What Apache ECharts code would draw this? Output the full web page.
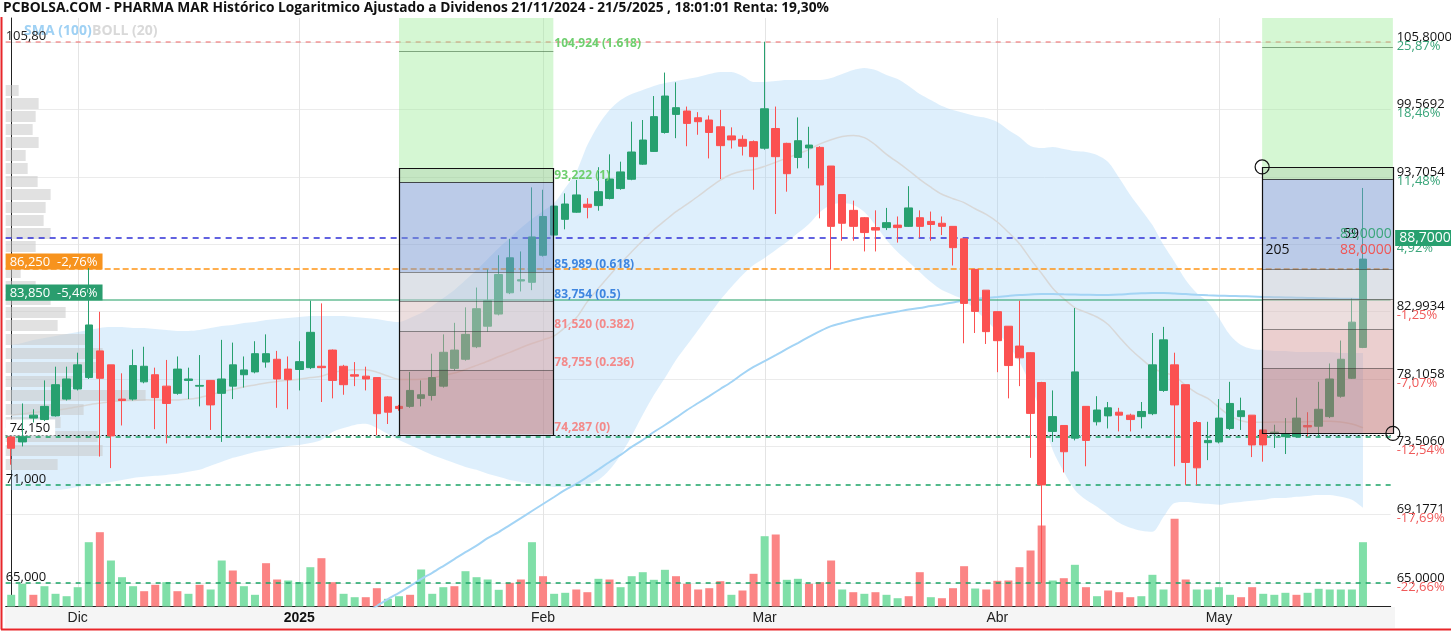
<!DOCTYPE html>
<html>
<head>
<meta charset="utf-8">
<title>PHARMA MAR - PCBOLSA</title>
<script src="https://cdn.jsdelivr.net/npm/echarts@6/dist/echarts.min.js"></script>
<style>
  html, body { margin: 0; padding: 0; background: #fff; }
  #chart { width: 1451px; height: 632px; }
</style>
</head>
<body>
<div id="chart"></div>
<script>
// sesiones 22/11/2024 - 21/5/2025
const dates = [
  '22/11','25/11','26/11','27/11','28/11','29/11',
  '2/12','3/12','4/12','5/12','6/12','9/12','10/12','11/12','12/12','13/12','16/12','17/12','18/12','19/12','20/12','23/12','24/12','27/12','30/12','31/12',
  '2/1','3/1','6/1','7/1','8/1','9/1','10/1','13/1','14/1','15/1','16/1','17/1','20/1','21/1','22/1','23/1','24/1','27/1','28/1','29/1','30/1','31/1',
  '3/2','4/2','5/2','6/2','7/2','10/2','11/2','12/2','13/2','14/2','17/2','18/2','19/2','20/2','21/2','24/2','25/2','26/2','27/2','28/2',
  '3/3','4/3','5/3','6/3','7/3','10/3','11/3','12/3','13/3','14/3','17/3','18/3','19/3','20/3','21/3','24/3','25/3','26/3','27/3','28/3','31/3',
  '1/4','2/4','3/4','4/4','7/4','8/4','9/4','10/4','11/4','14/4','15/4','16/4','17/4','22/4','23/4','24/4','25/4','28/4','29/4','30/4',
  '2/5','5/5','6/5','7/5','8/5','9/5','12/5','13/5','14/5','15/5','16/5','19/5','20/5','21/5'
];
const monthStarts = ['2/12', '2/1', '3/2', '3/3', '1/4', '2/5'];
const monthNames = ['Dic', '2025', 'Feb', 'Mar', 'Abr', 'May'];

// [apertura, cierre, minimo, maximo]
const ohlc = [
  [74.13,73.38,72.3,74.2],[73.8,74.15,73.5,76.4],[75.4,75.6,75.1,76.0],[75.3,76.2,75.2,78.0],[75.55,77.7,75.5,78.97],
  [76.7,78.1,76.6,78.97],[77.4,79.1,77.3,79.97],[78.2,81.99,78.1,86.3],[80.1,78.15,72.83,82.97],[79.1,74.2,72.08,79.1],
  [76.7,76.6,74.9,78.5],[76.7,79.05,76.6,80.2],[77.9,79.0,77.8,80.4],[78.4,76.8,74.65,78.9],[77.6,76.4,73.7,79.45],
  [77.1,78.8,77.0,79.7],[78.0,78.1,76.7,78.9],[77.6,77.65,76.2,79.8],[78.0,76.3,74.6,78.0],[77.1,78.1,73.8,80.9],
  [77.6,79.1,76.7,80.7],[78.4,78.74,77.5,79.7],[78.6,79.9,78.5,80.8],[79.3,79.9,78.9,81.3],[79.5,78.1,76.1,80.1],
  [78.8,78.05,76.0,79.7],[78.77,79.33,77.3,80.8],[78.9,81.45,78.8,83.8],[79.0,78.9,76.5,83.6],[80.16,78.0,76.75,80.2],
  [79.0,77.7,77.0,79.1],[78.4,78.3,77.6,79.3],[78.3,78.1,77.3,78.97],[78.2,75.7,74.25,78.2],[76.85,75.8,75.0,76.9],
  [76.2,76.05,75.9,76.3],[76.2,77.3,76.1,78.6],[76.75,77.0,76.2,78.0],[76.95,78.2,76.6,79.9],[77.6,80.0,77.5,81.3],
  [78.85,80.16,78.7,82.15],[79.5,81.3,79.4,83.3],[80.4,83.2,80.3,84.8],[81.9,83.8,81.5,86.2],[82.8,85.8,82.7,87.3],
  [84.4,87.1,84.3,88.6],[85.3,85.4,84.5,87.6],[85.2,88.75,84.6,92.8],[87.3,90.4,87.2,92.6],[88.9,91.25,88.8,92.4],
  [90.17,91.42,89.36,92.3],[90.75,92.17,90.7,93.42],[91.4,91.15,90.25,91.9],[91.29,92.44,90.87,94.5],[91.88,93.5,91.8,95.6],
  [92.7,94.1,92.6,94.97],[93.48,95.8,93.4,98.45],[94.76,96.84,94.7,98.6],[95.85,98.9,95.8,100.75],[97.5,100.75,97.4,102.9],
  [99.1,99.7,97.0,102.0],[99.4,98.3,96.3,99.8],[98.8,98.45,97.3,99.3],[98.6,97.5,95.25,99.0],[98.0,96.35,93.5,99.5],
  [97.2,96.85,96.1,97.95],[96.9,96.3,95.5,97.25],[96.7,95.4,92.6,96.8],[96.13,99.6,96.0,105.8],[97.85,95.4,90.6,99.8],
  [96.55,93.95,92.44,96.6],[95.33,96.78,94.4,98.83],[96.15,96.4,94.4,98.0],[96.2,93.0,90.25,96.3],[94.6,89.6,86.2,94.6],
  [92.2,89.85,88.45,92.2],[90.9,89.6,88.45,91.7],[90.3,89.1,87.6,90.35],[89.5,89.3,87.6,90.9],[89.5,89.9,89.3,91.1],
  [89.7,89.5,88.3,90.4],[89.6,91.1,89.55,92.9],[90.3,89.6,88.7,90.9],[90.0,89.75,88.45,90.8],[89.85,89.6,88.9,90.4],
  [89.6,87.9,86.5,89.6],[88.6,83.6,80.65,88.6],[86.2,83.0,81.4,86.25],[84.6,81.5,80.6,84.6],[82.98,80.84,78.58,83.0],
  [81.9,79.05,76.75,81.9],[80.45,79.6,77.6,83.8],[79.97,75.72,72.75,80.0],[77.85,71.0,65.0,77.9],[74.5,75.5,73.8,77.3],
  [74.9,73.15,71.8,74.9],[74.05,78.6,73.9,83.25],[76.2,73.9,72.2,76.2],[75.15,75.95,74.9,76.9],[75.55,76.1,74.7,76.5],
  [75.8,75.6,74.5,76.1],[75.6,75.3,74.5,75.7],[75.5,75.85,74.7,76.5],[75.7,79.1,75.6,81.4],[77.3,80.9,77.2,81.85],
  [79.1,76.3,72.2,79.97],[77.7,72.45,71.0,77.7],[75.1,72.1,71.0,75.2],[73.75,73.9,72.6,75.15],[73.8,75.4,73.7,76.7],
  [74.7,76.4,74.6,77.9],[75.5,75.9,74.6,76.8],[75.6,73.6,72.8,75.6],[74.6,73.6,72.5,74.6],[74.35,74.45,73.4,74.95],
  [74.15,74.3,73.0,75.4],[74.15,75.4,74.1,76.8],[74.9,74.8,74.15,75.8],[74.85,76.0,74.1,77.9],[75.5,78.1,75.4,79.2],
  [76.9,79.5,76.8,80.85],[78.15,82.2,78.1,83.97],[80.35,87.0,80.3,92.75]
];

const volume = [
  117,227,117,203,127,103,193,643,743,460, 293,203,153,217,243,153,127,217,170,460,
  360,203,117,433,270,260,243,393,483,243, 127,93,93,183,77,103,117,370,127,193,
  203,353,293,270,167,237,270,643,303,127, 137,170,143,277,270,193,303,343,267,367,
  303,227,170,183,253,117,160,327,703,720, 267,277,227,243,460,170,143,127,143,117,
  83,103,343,93,83,183,403,180,170,257, 260,393,560,810,260,283,417,193,103,160,
  143,93,103,317,170,877,270,170,170,193, 117,93,193,127,117,137,117,137,177,170,
  170,170,643
];
const volDir = [
  1,1,-1,1,1,1,1,1,-1,1, 1,1,-1,-1,1,-1,1,-1,1,1, -1,1,1,-1,-1,1,1,1,-1,-1,
  1,1,-1,-1,1,1,-1,1,1,1, -1,1,1,1,1,-1,-1,1,-1,1, 1,-1,-1,1,-1,1,1,1,1,1,
  -1,-1,-1,-1,-1,1,-1,-1,1,-1, 1,1,-1,-1,-1,1,-1,1,-1,1, 1,-1,-1,1,-1,-1,-1,1,-1,-1,
  -1,-1,-1,-1,1,-1,1,-1,1,-1, -1,-1,1,1,1,-1,-1,1,1,1, 1,-1,-1,1,1,1,-1,1,1,1,
  1,1,1
];

const bollUp = [
  80.52,80.67,80.89,81.04,81.18,81.33,81.47,81.62,81.77,81.84,
  81.84,81.77,81.77,81.69,81.62,81.55,81.55,81.62,81.77,81.92,
  81.99,82.14,82.21,82.36,82.43,82.51,82.58,82.66,82.66,82.66,
  82.66,82.58,82.51,82.43,82.29,82.21,82.51,82.88,83.40,84.00,
  84.61,85.37,86.15,87.01,87.87,88.66,89.46,90.19,90.85,91.50,
  92.75,94.09,96.40,98.16,99.49,100.39,100.94,101.30,101.67,101.94,
  102.13,102.31,102.50,102.77,102.96,102.96,102.59,102.04,102.04,102.13,
  102.22,102.22,102.22,102.22,102.40,102.77,103.14,103.33,103.14,102.68,
  102.31,101.67,100.94,100.39,99.85,99.49,99.22,98.95,98.78,98.42,
  97.72,97.10,96.32,96.14,96.23,96.06,95.88,95.80,95.54,94.94,
  93.59,92.16,90.93,89.70,88.10,86.77,85.37,84.38,83.70,82.51,
  81.25,80.52,80.23,80.16,80.09,80.09,80.02,80.02,80.02,80.02,
  79.95,79.95,79.95
];
const bollLo = [
  70.68,70.68,70.68,70.68,70.68,70.74,70.87,71.00,71.06,71.19,
  71.32,71.45,71.52,71.58,71.64,71.71,71.84,71.97,72.23,72.49,
  72.75,72.94,73.14,73.27,73.40,73.53,73.60,73.73,73.93,74.46,
  74.73,74.94,75.01,74.73,74.33,73.93,73.60,73.27,72.94,72.68,
  72.42,72.16,71.97,71.71,71.52,71.32,71.19,71.06,70.94,70.87,
  70.87,70.94,71.06,71.32,71.97,72.94,74.20,75.62,76.98,78.17,
  79.45,80.52,81.62,82.73,83.85,84.84,85.76,86.54,87.09,87.71,
  88.34,89.06,89.79,90.77,91.34,91.50,91.34,90.77,89.70,88.50,
  87.55,86.77,86.00,85.22,84.61,84.23,83.85,83.10,82.36,81.47,
  80.52,79.31,77.68,75.62,73.27,71.84,70.68,70.05,69.61,69.11,
  68.62,68.31,68.13,68.07,68.99,69.86,69.92,69.86,69.80,69.74,
  69.86,69.92,69.99,70.05,70.17,70.17,70.24,70.30,70.36,70.36,
  70.24,70.05,69.55
];
const bollMid = [
  75.60,75.68,75.79,75.86,75.93,76.04,76.17,76.31,76.42,76.52,
  76.58,76.61,76.65,76.64,76.63,76.63,76.70,76.80,77.00,77.21,
  77.37,77.54,77.68,77.82,77.92,78.02,78.09,78.20,78.30,78.56,
  78.70,78.76,78.76,78.58,78.31,78.07,78.06,78.08,78.17,78.34,
  78.52,78.77,79.06,79.36,79.70,79.99,80.33,80.63,80.90,81.19,
  81.81,82.52,83.73,84.74,85.73,86.67,87.57,88.46,89.33,90.06,
  90.79,91.42,92.06,92.75,93.41,93.90,94.18,94.29,94.57,94.92,
  95.28,95.64,96.01,96.50,96.87,97.14,97.24,97.05,96.42,95.59,
  94.93,94.22,93.47,92.81,92.23,91.86,91.54,91.03,90.57,89.95,
  89.12,88.21,87.00,85.88,84.75,83.95,83.28,82.93,82.58,82.03,
  81.11,80.24,79.53,78.89,78.55,78.32,77.65,77.12,76.75,76.13,
  75.56,75.22,75.11,75.11,75.13,75.13,75.13,75.16,75.19,75.19,
  75.13,75.00,74.75
];
const sma100 = Array(32).fill(null).concat([
  63.28,63.67,64.07,64.43,64.82,65.23,65.60,66.00,
  66.41,66.83,67.22,67.68,68.05,68.48,68.91,69.35,69.79,70.23,
  70.68,71.06,71.51,71.99,72.48,72.94,73.47,73.93,74.46,74.93,
  75.43,75.95,76.43,76.91,77.40,77.89,78.45,78.95,79.37,79.80,
  80.24,80.67,81.11,81.54,81.91,82.13,82.36,82.55,82.69,82.84,
  82.99,83.14,83.25,83.40,83.52,83.67,83.82,83.93,84.01,84.08,
  84.16,84.23,84.27,84.31,84.30,84.28,84.27,84.25,84.23,84.24,
  84.27,84.32,84.36,84.38,84.38,84.35,84.30,84.25,84.21,84.18,
  84.16,84.14,84.12,84.09,84.07,84.05,84.03,84.01,83.99,83.97,
  83.95,83.94,83.93
]);

// volumen por nivel de precio (perfil de la izquierda)
const profilePrice = [101.25,100.04,98.90,97.77,96.63,95.50,94.39,93.29,92.20,91.14,90.07,89.02,87.98,86.97,85.92,
  84.88,83.89,82.92,81.95,80.93,79.91,78.92,77.94,76.97,76.01,75.07,74.14,73.23,72.33];
const profileVol = [13,33,30,27,33,20,22,32,45,40,38,45,30,35,15,30,45,60,52,83,97,93,77,140,78,55,92,97,52];

// eje derecho
const rightTicks = [65, 69.1771, 73.506, 78.1058, 82.9934, 88.1862, 93.7054, 99.5692, 105.8];
const rightText = ['65,0000','69,1771','73,5060','78,1058','82,9934','88,1862','93,7054','99,5692','105,8000'];
const rightPct = ['-22,66%','-17,69%','-12,54%','-7,07%','-1,25%','4,92%','11,48%','18,46%','25,87%'];

// niveles horizontales
const levelValue = [105.8, 88.7, 86.25, 83.85, 74.287, 74.15, 71, 65];
const levelText = ['105,80', '', '86,250  -2,76%', '83,850  -5,46%', '', '74,150', '71,000', '65,000'];
const lastPrice = 88.7;
const lastText = '88,7000';

// fibonacci
const fibLeft = [74.287, 78.755, 81.520, 83.754, 85.989, 93.222, 94.44, 104.924];
const fibLeftText = ['74,287 (0)', '78,755 (0.236)', '81,520 (0.382)', '83,754 (0.5)', '85,989 (0.618)', '93,222 (1)', '', '104,924 (1.618)'];
const fibRight = [74.37, 78.88, 81.68, 83.93, 86.19, 93.49, 94.52, 105.32];

// notas del recuadro derecho
const noteText = ['205', '59', '89,0000', '88,0000'];
const noteX = [113.2, 120.2, 124.6, 124.6];
const notePrice = [87.75, 88.95, 88.95, 87.75];

const GREEN = '#27a06f', RED = '#fb5151';
const FONT = '"Open Sans", "DejaVu Sans", sans-serif';
const levelStyle = [
  { stroke: '#f06464', dash: [5, 5], width: 1.2 },
  { stroke: '#2f2fd6', dash: [6, 5], width: 1.5, to: 119.9 },
  { stroke: '#ff9414', dash: [6, 3], width: 1.5, bg: '#f7931e', fill: '#fff' },
  { stroke: '#1f9d62', dash: null, width: 1.2, bg: '#2a9d6e', fill: '#fff' },
  { stroke: '#111', dash: [2, 2], width: 1 },
  { stroke: '#1aa466', dash: [5, 5], width: 1.5, bg: '#fff', fill: '#111', lift: 2 },
  { stroke: '#1aa466', dash: [5, 5], width: 1.5, fill: '#111' },
  { stroke: '#1aa466', dash: [5, 5], width: 1.5, fill: '#111' }
];
const fibFill = ['rgba(190,110,110,0.5)', 'rgba(215,160,160,0.5)', 'rgba(218,190,190,0.5)',
  'rgba(190,198,210,0.5)', 'rgba(120,152,210,0.5)', 'rgba(140,205,135,0.5)', 'rgba(150,235,145,0.4)'];
const fibTextColor = ['#f38a8a', '#f38a8a', '#f38a8a', '#3f86e0', '#3f86e0', '#6fcf6f', '', '#6fcf6f'];
const fibBoxes = [
  { span: [35.0, 48.93], levels: fibLeft, text: fibLeftText, circles: false },
  { span: [112.9, 124.7], levels: fibRight, text: null, circles: true }
];
const noteStyle = [
  { color: '#111', align: 'left' }, { color: '#111', align: 'left' },
  { color: '#3aa57a', align: 'right' }, { color: '#f05555', align: 'right' }
];

const slots = dates.concat([' ', '  ']);
const monthIdx = monthStarts.map(d => dates.indexOf(d));

const chart = echarts.init(document.getElementById('chart'));

chart.setOption({
  animation: false,
  backgroundColor: '#fff',
  grid: { left: 5.66, right: 60.34, top: 18, bottom: 25.5 },
  graphic: [
    { type: 'rect', z: -10, shape: { x: 5, y: 607, width: 1390, height: 21 }, style: { fill: '#f5f5f5' } },
    { type: 'line', shape: { x1: 1.5, y1: 17, x2: 1.5, y2: 629.5 }, style: { stroke: '#e8262a', lineWidth: 2 } },
    { type: 'line', shape: { x1: 1, y1: 629.5, x2: 1451, y2: 629.5 }, style: { stroke: '#e8262a', lineWidth: 2 } },
    { type: 'text', left: 3, top: 1, style: {
      text: 'PCBOLSA.COM - PHARMA MAR Histórico Logaritmico Ajustado a Dividenos 21/11/2024 - 21/5/2025 , 18:01:01 Renta: 19,30%',
      font: 'bold 13.75px ' + FONT, fill: '#111' } },
    { type: 'text', left: 24, top: 24, style: { text: 'SMA (100)', font: 'bold 14px ' + FONT, fill: '#9fd1f4' } },
    { type: 'text', left: 92, top: 24, style: { text: 'BOLL (20)', font: 'bold 14px ' + FONT, fill: '#d9d9d9' } }
  ],
  xAxis: [
    {
      type: 'category', data: slots, boundaryGap: true,
      axisLine: { lineStyle: { color: '#222' } },
      axisTick: { show: false },
      splitLine: { show: false },
      axisLabel: {
        interval: (i, v) => monthStarts.indexOf(v) >= 0,
        formatter: v => {
          const n = monthNames[monthStarts.indexOf(v)];
          return n === '2025' ? '{b|2025}' : n;
        },
        margin: 5, color: '#222', fontSize: 14, fontFamily: 'Liberation Sans, Arial',
        rich: { b: { fontWeight: 'bold', fontSize: 14, fontFamily: 'Liberation Sans, Arial', color: '#111' } }
      }
    },
    { type: 'value', min: -0.5, max: 124.5, show: false },
    { type: 'value', min: 0, max: 1385, show: false }
  ],
  yAxis: [
    {
      type: 'log', min: 63.64, max: 108.08, position: 'right', offset: 4,
      axisLine: { show: true, lineStyle: { color: '#222' } },
      axisTick: { show: false }, axisLabel: { show: false }, splitLine: { show: false }
    },
    { type: 'value', min: 0, max: 5885, show: false }
  ],
  series: [
    {
      // lineas de rejilla horizontales y etiquetas del eje derecho
      type: 'custom', name: 'ejeY', xAxisIndex: 1, yAxisIndex: 0, z: 0, clip: false, silent: true,
      data: rightTicks.map((v, i) => [0, v, i]),
      renderItem: (params, api) => {
        const cs = params.coordSys;
        const i = api.value(2);
        const y = Math.round(api.coord([0, api.value(1)])[1]) + 0.5;
        const x = cs.x + cs.width + 6;
        const pct = rightPct[i];
        return {
          type: 'group', children: [
            { type: 'line', shape: { x1: cs.x, y1: y, x2: cs.x + cs.width, y2: y }, style: { stroke: '#ebebeb', lineWidth: 1 } },
            { type: 'text', style: { x: x, y: y + 1, text: rightText[i], fill: '#111', font: '13px ' + FONT, textAlign: 'left', textVerticalAlign: 'bottom' } },
            { type: 'text', style: { x: x, y: y - 3, text: pct, fill: pct[0] === '-' ? '#f05a5a' : '#3aa57a', font: '13px ' + FONT, textAlign: 'left', textVerticalAlign: 'top' } }
          ]
        };
      }
    },
    {
      // lineas verticales de inicio de mes
      type: 'custom', name: 'meses', xAxisIndex: 0, yAxisIndex: 0, z: 0, silent: true,
      data: monthIdx.map(i => [i, 80]),
      renderItem: (params, api) => {
        const cs = params.coordSys;
        const x = Math.round(api.coord([api.value(0), 80])[0]) + 0.5;
        return { type: 'line', shape: { x1: x, y1: cs.y, x2: x, y2: cs.y + cs.height }, style: { stroke: '#e4e4e4', lineWidth: 1 } };
      }
    },
    {
      name: 'BOLL inf', type: 'line', data: bollLo, stack: 'boll', symbol: 'none', smooth: 0.3, z: 1, silent: true,
      lineStyle: { opacity: 0 }
    },
    {
      name: 'BOLL (20)', type: 'line', data: bollUp.map((u, i) => +(u - bollLo[i]).toFixed(2)), stack: 'boll',
      symbol: 'none', smooth: 0.3, z: 1, silent: true,
      lineStyle: { opacity: 0 }, areaStyle: { color: 'rgba(160,210,245,0.35)', opacity: 1 }
    },
    {
      name: 'BOLL media', type: 'line', data: bollMid, symbol: 'none', smooth: 0.3, z: 1, silent: true,
      lineStyle: { color: '#d8d8d8', width: 1.5 }
    },
    {
      name: 'SMA (100)', type: 'line', data: sma100, symbol: 'none', smooth: 0.3, z: 2, silent: true,
      lineStyle: { color: '#a3d4f5', width: 2 }
    },
    {
      // perfil de volumen por precio
      type: 'custom', name: 'perfil', xAxisIndex: 2, yAxisIndex: 0, z: 2, silent: true,
      data: profilePrice.map((p, i) => [profileVol[i], p]),
      renderItem: (params, api) => {
        const p = api.coord([api.value(0), api.value(1)]);
        const p0 = api.coord([0, api.value(1)]);
        return { type: 'rect', shape: { x: p0[0], y: Math.round(p[1] - 5.5), width: p[0] - p0[0], height: 11 }, style: { fill: 'rgba(200,200,200,0.55)' } };
      }
    },
    {
      name: 'Volumen', type: 'bar', xAxisIndex: 0, yAxisIndex: 1, barWidth: 8, z: 2, silent: true,
      data: volume.map((v, i) => ({ value: v, itemStyle: { color: volDir[i] > 0 ? '#80dfa8' : '#fb8585' } }))
    },
    {
      name: 'PHARMA MAR', type: 'candlestick', xAxisIndex: 0, yAxisIndex: 0, barWidth: 8, z: 3,
      data: ohlc,
      itemStyle: { color: GREEN, color0: RED, borderColor: GREEN, borderColor0: RED, borderWidth: 1 }
    },
    {
      // niveles horizontales con sus etiquetas
      type: 'custom', name: 'niveles', xAxisIndex: 1, yAxisIndex: 0, z: 3, clip: false, silent: true,
      data: levelValue.map((v, i) => [0, v, i]),
      renderItem: (params, api) => {
        const i = api.value(2);
        const st = levelStyle[i];
        const cs = params.coordSys;
        const yRaw = api.coord([0, api.value(1)])[1];
        const y = st.width === 1 ? Math.round(yRaw) + 0.5 : Math.round(yRaw);
        const xa = cs.x;
        const xb = st.to != null ? api.coord([st.to, 80])[0] : cs.x + cs.width;
        const ch = [{ type: 'line', shape: { x1: xa, y1: y, x2: xb, y2: y },
          style: { stroke: st.stroke, lineWidth: st.width, lineDash: st.dash } }];
        if (levelText[i]) {
          ch.push({ type: 'text', style: {
            x: cs.x, y: y - (st.lift || 0) + 0.5, text: levelText[i], fill: st.fill || '#222',
            font: '13px ' + FONT, textAlign: 'left', textVerticalAlign: 'bottom',
            backgroundColor: st.bg || null, padding: st.bg ? [2, 5, 1, 4] : [0, 0, 0, 0]
          } });
        }
        if (api.value(1) === lastPrice) {
          ch.push({ type: 'text', style: {
            x: cs.x + cs.width + 4.5, y: y, text: lastText, fill: '#fff',
            font: '14px ' + FONT, textAlign: 'left', textVerticalAlign: 'middle',
            backgroundColor: GREEN, padding: [1, 4, 1, 4]
          } });
        }
        return { type: 'group', children: ch };
      }
    },
    {
      // recuadros de fibonacci
      type: 'custom', name: 'fibo', xAxisIndex: 1, yAxisIndex: 0, z: 4, clip: false, silent: true,
      data: fibBoxes.map((b, i) => [i, 80]),
      renderItem: (params, api) => {
        const b = fibBoxes[api.value(0)];
        const lv = b.levels;
        const top = params.coordSys.y;
        const X = v => api.coord([v, lv[0]])[0];
        const Y = p => api.coord([b.span[0], p])[1];
        const x1 = X(b.span[0]), x2 = X(b.span[1]);
        const ch = [];
        for (let k = 0; k < 7; k++) {
          const yLo = Y(lv[k]);
          const yHi = k === 6 ? top : Y(lv[k + 1]);
          ch.push({ type: 'rect', shape: { x: x1, y: yHi, width: x2 - x1, height: yLo - yHi }, style: { fill: fibFill[k] } });
        }
        for (let k = 1; k < 6; k++) {
          const y = Math.round(Y(lv[k])) + 0.5;
          ch.push({ type: 'line', shape: { x1: x1, y1: y, x2: x2, y2: y }, style: { stroke: k === 5 ? 'rgba(20,20,20,0.75)' : 'rgba(60,60,60,0.55)', lineWidth: 1 } });
        }
        const y7 = Math.round(Y(lv[7])) + 0.5;
        ch.push({ type: 'line', shape: { x1: x1, y1: y7, x2: x2, y2: y7 }, style: { stroke: 'rgba(70,110,70,0.6)', lineWidth: 1 } });
        const yt = Math.round(Y(lv[6])) + 0.5, yb = Math.round(Y(lv[0])) + 0.5;
        ch.push({ type: 'rect', shape: { x: Math.round(x1) + 0.5, y: yt, width: Math.round(x2 - x1), height: yb - yt },
          style: { fill: 'none', stroke: '#111', lineWidth: 1.2 } });
        if (b.text) {
          for (let k = 0; k < 8; k++) {
            if (!b.text[k]) continue;
            ch.push({ type: 'text', style: { x: x2 + 1, y: Y(lv[k]) - 1, text: b.text[k], fill: fibTextColor[k],
              font: 'bold 12px ' + FONT, textAlign: 'left', textVerticalAlign: 'bottom' } });
          }
        }
        if (b.circles) {
          ch.push({ type: 'circle', shape: { cx: x1, cy: Y(lv[6]), r: 7 }, style: { fill: 'none', stroke: '#111', lineWidth: 1.2 } });
          ch.push({ type: 'circle', shape: { cx: x2, cy: Y(lv[0]), r: 7 }, style: { fill: 'none', stroke: '#111', lineWidth: 1.2 } });
        }
        return { type: 'group', children: ch };
      }
    },
    {
      // textos del recuadro derecho
      type: 'custom', name: 'notas', xAxisIndex: 1, yAxisIndex: 0, z: 5, clip: false, silent: true,
      data: noteX.map((x, i) => [x, notePrice[i], i]),
      renderItem: (params, api) => {
        const i = api.value(2);
        const p = api.coord([api.value(0), api.value(1)]);
        return { type: 'text', style: { x: p[0], y: p[1], text: noteText[i], fill: noteStyle[i].color,
          font: '14px ' + FONT, textAlign: noteStyle[i].align, textVerticalAlign: 'middle' } };
      }
    }
  ]
});
</script>
</body>
</html>
